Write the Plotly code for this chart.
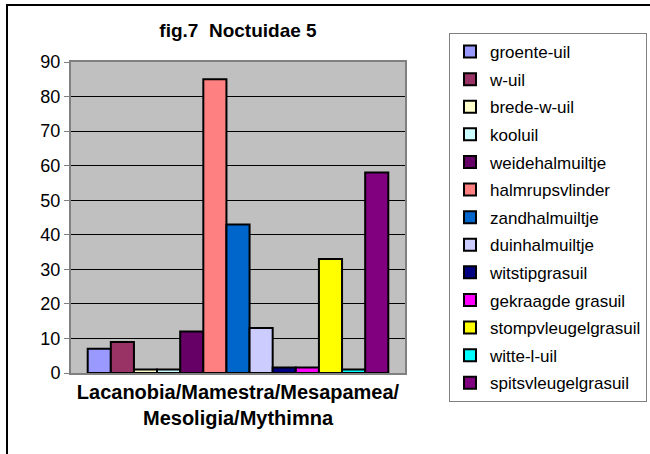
import plotly.graph_objects as go

# data
category = ["Lacanobia/Mamestra/Mesapamea/<br>Mesoligia/Mythimna"]
species = [
    "groente-uil", "w-uil", "brede-w-uil", "kooluil", "weidehalmuiltje",
    "halmrupsvlinder", "zandhalmuiltje", "duinhalmuiltje", "witstipgrasuil",
    "gekraagde grasuil", "stompvleugelgrasuil", "witte-l-uil", "spitsvleugelgrasuil",
]
counts = [7, 9, 1, 1, 12, 85, 43, 13, 1.6, 1.6, 33, 1, 58]
colors = [
    "#9999FF", "#993366", "#FFFFCC", "#CCFFFF", "#660066",
    "#FF8080", "#0066CC", "#CCCCFF", "#000080", "#FF00FF",
    "#FFFF00", "#00FFFF", "#800080",
]
y_ticks = [0, 10, 20, 30, 40, 50, 60, 70, 80, 90]

fig = go.Figure()

for i, (name, val, col) in enumerate(zip(species, counts, colors)):
    fig.add_trace(go.Bar(
        x=category,
        y=[val],
        name=name,
        legendgroup=f"g{i:02d}",
        marker=dict(color=col, line=dict(color="black", width=2)),
    ))

fig.update_layout(
    width=650, height=454,
    margin=dict(l=71, r=245, t=62, b=81, autoexpand=False),
    paper_bgcolor="white",
    plot_bgcolor="#C0C0C0",
    font=dict(family="Arial", color="black"),
    barmode="group",
    bargap=0.1,
    bargroupgap=0,
    title=dict(
        text="<b>fig.7  Noctuidae 5</b>",
        x=0.5, xref="paper", xanchor="center",
        y=1 - 30 / 454, yanchor="middle",
        font=dict(size=19, family="Arial"),
    ),
    xaxis=dict(
        showgrid=False, automargin=False,
        tickfont=dict(size=20, family="Arial", weight="bold"),
        showline=True, linecolor="#808080", linewidth=2,
        ticks="", mirror=True,
    ),
    yaxis=dict(
        range=[0, 90], automargin=False,
        tickvals=y_ticks,
        showgrid=True, gridcolor="black", gridwidth=1,
        showline=True, linecolor="#808080", linewidth=2, mirror=True,
        ticks="outside", tickcolor="#808080", ticklen=5,
        tickfont=dict(size=18, family="Arial"),
        zeroline=False,
    ),
    legend=dict(
        x=(449 - 71) / 334, y=(373 - 33) / 311,
        xanchor="left", yanchor="top",
        bordercolor="#808080", borderwidth=1,
        font=dict(size=17, family="Arial"),
        tracegroupgap=2.5,
        traceorder="grouped",
        itemwidth=30,
        maxheight=440,
    ),
    showlegend=True,
    shapes=[dict(
        type="rect", xref="paper", yref="paper",
        x0=(7 - 71) / 334, x1=(700 - 71) / 334,
        y0=(373 - 500) / 311, y1=(373 - 5) / 311,
        line=dict(color="black", width=2),
    )],
)

# page body has a default 8px margin; drop it so the chart sits at 0,0
fig.write_html("out.html", config={"displayModeBar": False},
               post_script="document.body.style.margin='0';")
